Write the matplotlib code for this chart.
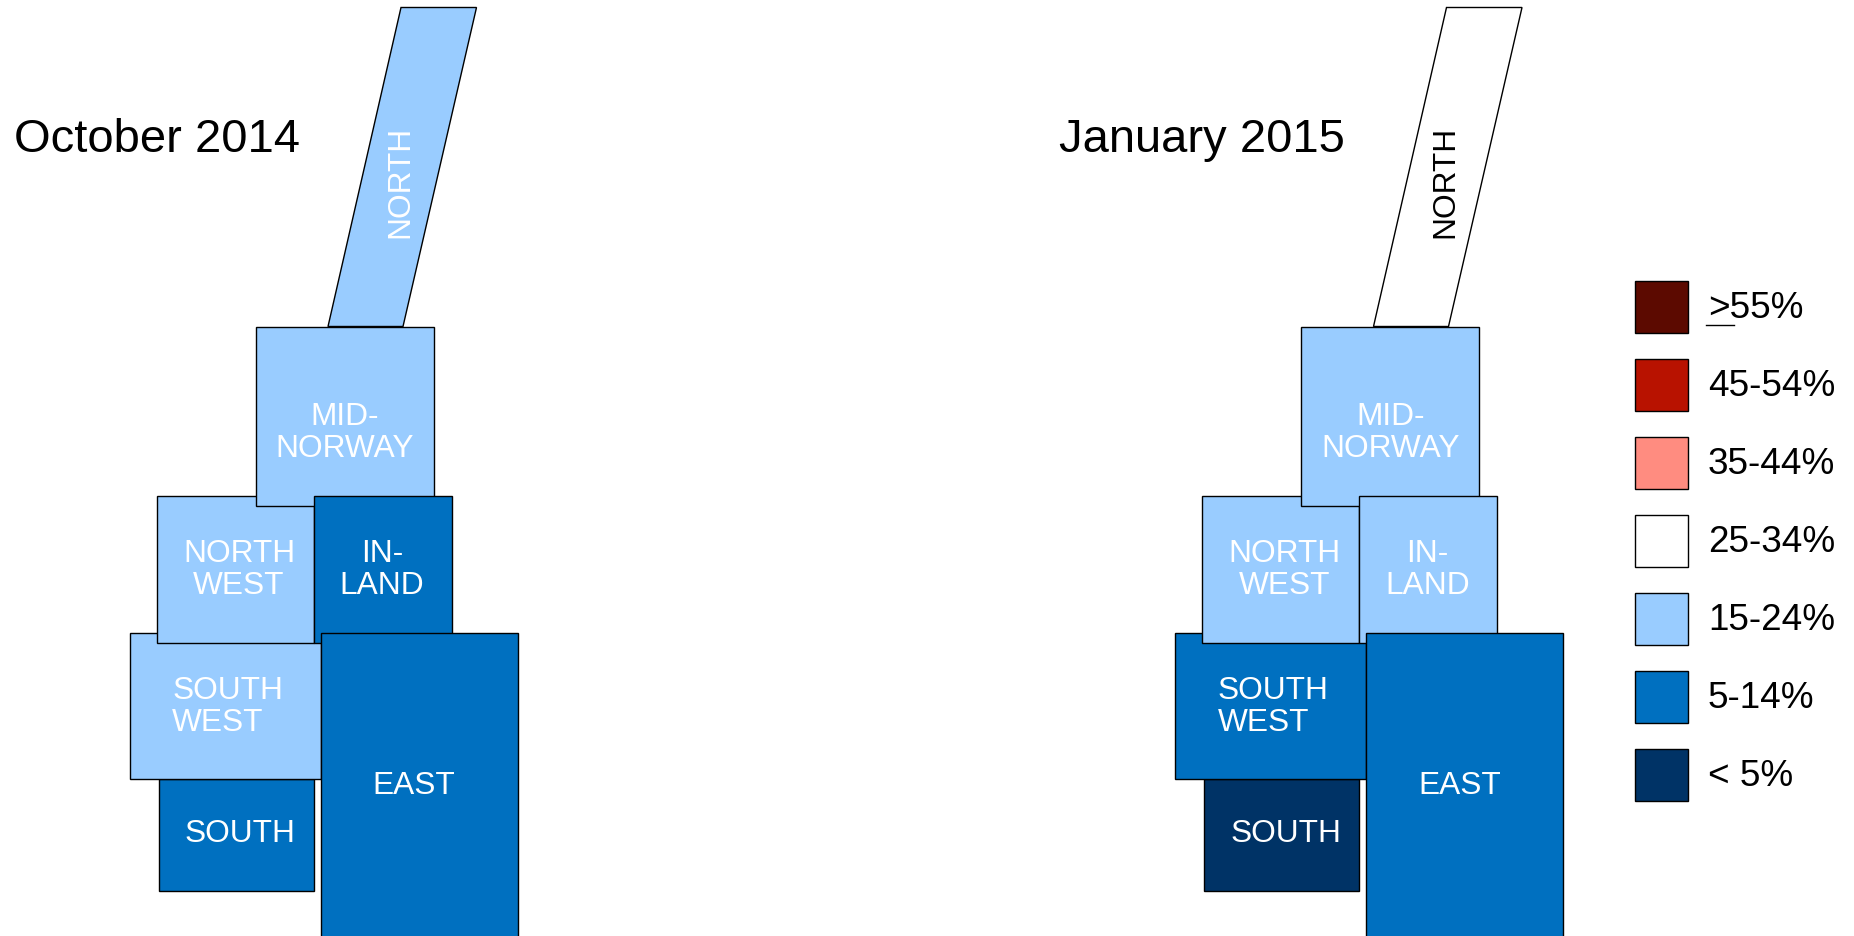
import matplotlib
matplotlib.use('Agg')
import matplotlib.pyplot as plt

# regions in drawing order, bottom one first
regions = ['NORTH', 'SOUTH', 'SOUTH\nWEST', 'NORTH\nWEST', 'MID-\nNORWAY', 'IN-\nLAND', 'EAST']
oct_bands = ['15-24%', '5-14%', '15-24%', '15-24%', '15-24%', '5-14%', '5-14%']
jan_bands = ['25-34%', '< 5%', '5-14%', '15-24%', '15-24%', '15-24%', '5-14%']

legend_labels = ['>55%', '45-54%', '35-44%', '25-34%', '15-24%', '5-14%', '< 5%']
legend_colors = ['#5C0A00', '#B81200', '#FF8C80', '#FFFFFF', '#99CCFF', '#0070C0', '#003366']
band_color = dict(zip(legend_labels, legend_colors))

# tile map layout in image pixels: left, right, top, bottom (NORTH is a slanted strip)
tile_left = [None, 159, 130, 157, 256, 314, 321]
tile_right = [None, 314, 321, 314, 434, 452, 518]
tile_top = [None, 780, 634, 496.5, 327.5, 496.5, 634]
tile_bottom = [None, 892, 780, 643.5, 507, 643.5, 950]
north_x = [328, 401, 476.5, 403]
north_y = [327.5, 8.5, 8.5, 327.5]
label_x = [400, 240, 227.5, 239, 345, 382, 414]
label_y = [181.5, 834.5, 707, 570, 433, 570, 786]
label_align = ['center', 'center', 'left', 'center', 'center', 'center', 'center']

map_shift = [0, 1045.5]
titles = ['October 2014', 'January 2015']
title_x = [14, 1059]
band_sets = [oct_bands, jan_bands]

plt.rcParams['font.family'] = ['Liberation Sans', 'DejaVu Sans']

fig = plt.figure(figsize=(18.54, 9.37), dpi=100)
ax = fig.add_axes([0, 0, 1, 1])
ax.set_xlim(0, 1854)
ax.set_ylim(937, 0)
ax.axis('off')

for shift, title, tx, bands in zip(map_shift, titles, title_x, band_sets):
    ax.text(tx, 140, title, fontsize=33.9, va='center', ha='left', color='black')
    for i, region in enumerate(regions):
        color = band_color[bands[i]]
        if tile_left[i] is None:
            ax.fill([x + shift for x in north_x], north_y, facecolor=color,
                    edgecolor='black', linewidth=1, zorder=2 + i)
        else:
            ax.bar(tile_left[i] + shift, tile_bottom[i] - tile_top[i],
                   width=tile_right[i] - tile_left[i], bottom=tile_top[i], align='edge',
                   color=color, edgecolor='black', linewidth=1, zorder=2 + i)
        text_color = 'black' if bands[i] == '25-34%' else 'white'
        ax.text(label_x[i] + shift, label_y[i], region, color=text_color, fontsize=22.8,
                ha='center', va='center', linespacing=1.07, multialignment=label_align[i],
                zorder=20, rotation=90 if region == 'NORTH' else 0)

# legend
for i, (label, color) in enumerate(zip(legend_labels, legend_colors)):
    y = 282 + 78 * i
    ax.bar(1635, 52, width=53, bottom=y, align='edge', color=color,
           edgecolor='black', linewidth=1, zorder=2)
    ax.text(1708, y + 26.5, label, fontsize=26.6, va='center', ha='left', color='black')

# the underlined > of the first legend entry
ax.plot([1706, 1734], [326, 326], color='black', linewidth=1)

fig.savefig('out.png', dpi=100)
